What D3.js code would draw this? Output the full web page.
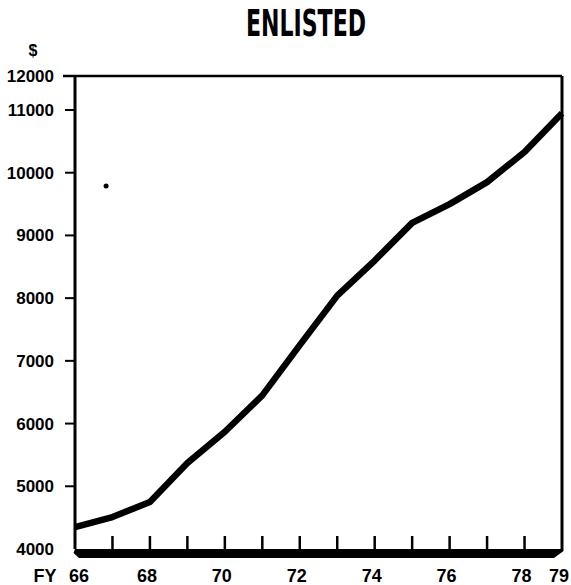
<!DOCTYPE html>
<html>
<head>
<meta charset="utf-8">
<script src="https://cdn.jsdelivr.net/npm/d3@7"></script>
<style>
  body { margin: 0; background: #fff; }
  svg { display: block; }
</style>
</head>
<body>
<div id="chart"></div>
<script>
// Data (average cost, enlisted, by fiscal year)
const years = [66, 67, 68, 69, 70, 71, 72, 73, 74, 75, 76, 77, 78, 79];
const costs = [4350, 4510, 4750, 5370, 5870, 6450, 7250, 8040, 8600, 9200, 9500, 9850, 10330, 10950];
const yTicks = [4000, 5000, 6000, 7000, 8000, 9000, 10000, 11000, 12000];
const xTickYears = [67, 68, 69, 70, 71, 72, 73, 74, 75, 76, 77, 78];
const xLabels = [66, 68, 70, 72, 74, 76, 78, 79];
// stray dot on the original print
const strayDot = [{ year: 66.83, cost: 9790 }];

const width = 571;
const height = 585;

const svg = d3.select("#chart")
    .append("svg")
        .attr("width", width)
        .attr("height", height)
        .attr("viewBox", [0, 0, width, height]);

// x runs FY66..FY79 across the frame; y is squeezed above 11000 like the original
const x = d3.scaleLinear().domain([66, 79]).range([75, 562]);
const y = d3.scaleLinear().domain([4000, 11000, 12000]).range([549, 110, 76]);

const labelFont = "'Liberation Sans', Arial, sans-serif";

// Title
svg.append("text")
    .attr("x", 306)
    .attr("y", 36)
    .attr("text-anchor", "middle")
    .attr("font-family", "'Liberation Sans Narrow', 'DejaVu Sans Condensed', sans-serif")
    .attr("font-weight", "bold")
    .attr("font-size", 38)
    .attr("textLength", 120)
    .attr("lengthAdjust", "spacingAndGlyphs")
    .text("ENLISTED");

svg.append("text")
    .attr("x", 33)
    .attr("y", 56)
    .attr("text-anchor", "middle")
    .attr("font-family", labelFont)
    .attr("font-weight", "bold")
    .attr("font-size", 16)
    .text("$");

// Frame: top line, left axis, right edge
svg.append("line")
    .attr("x1", x(66) - 12).attr("x2", x(79))
    .attr("y1", y(12000)).attr("y2", y(12000))
    .attr("stroke", "#000").attr("stroke-width", 2.5);

svg.append("line")
    .attr("x1", x(66)).attr("x2", x(66))
    .attr("y1", y(12000)).attr("y2", y(4000))
    .attr("stroke", "#000").attr("stroke-width", 3);

svg.append("line")
    .attr("x1", x(79)).attr("x2", x(79))
    .attr("y1", y(12000)).attr("y2", y(4000))
    .attr("stroke", "#000").attr("stroke-width", 3);

// Thick base bar with bevelled ends
const barTop = y(4000);
svg.append("path")
    .attr("d", `M${x(66)},${barTop} L${x(79) + 1.5},${barTop} L${x(79) + 1.5},${barTop + 2} L${x(79) - 8},${barTop + 9} L${x(66) + 4},${barTop + 9} L${x(66) - 1.5},${barTop + 4} Z`)
    .attr("fill", "#000");

// Y ticks and labels
const yAxis = svg.append("g");
yAxis.selectAll("line")
    .data(yTicks.filter(d => d !== 12000 && d !== 4000))
    .join("line")
        .attr("x1", x(66) - 10).attr("x2", x(66))
        .attr("y1", d => y(d)).attr("y2", d => y(d))
        .attr("stroke", "#000").attr("stroke-width", 2);

yAxis.selectAll("text")
    .data(yTicks)
    .join("text")
        .attr("x", 54)
        .attr("y", d => y(d) + 6)
        .attr("text-anchor", "end")
        .attr("font-family", labelFont)
        .attr("font-weight", "bold")
        .attr("font-size", 17)
        .text(d => d);

// X ticks rising from the bar
svg.append("g")
    .selectAll("line")
    .data(xTickYears)
    .join("line")
        .attr("x1", d => x(d)).attr("x2", d => x(d))
        .attr("y1", barTop - 13).attr("y2", barTop)
        .attr("stroke", "#000").attr("stroke-width", 2.5);

const xAxis = svg.append("g")
    .attr("font-family", labelFont)
    .attr("font-weight", "bold")
    .attr("font-size", 18);

xAxis.selectAll("text")
    .data(xLabels)
    .join("text")
        .attr("x", d => d === 66 ? x(d) + 4 : x(d) - 3)
        .attr("y", 582)
        .attr("text-anchor", "middle")
        .text(d => d);

xAxis.append("text")
    .attr("x", 45)
    .attr("y", 582)
    .attr("text-anchor", "middle")
    .text("FY");

// The cost line
const line = d3.line()
    .x((d, i) => x(years[i]))
    .y(d => y(d));

svg.append("path")
    .datum(costs)
    .attr("fill", "none")
    .attr("stroke", "#000")
    .attr("stroke-width", 6.5)
    .attr("stroke-linejoin", "round")
    .attr("d", line);

svg.selectAll("circle.stray")
    .data(strayDot)
    .join("circle")
        .attr("class", "stray")
        .attr("cx", d => x(d.year))
        .attr("cy", d => y(d.cost))
        .attr("r", 2.5)
        .attr("fill", "#000");
</script>
</body>
</html>
